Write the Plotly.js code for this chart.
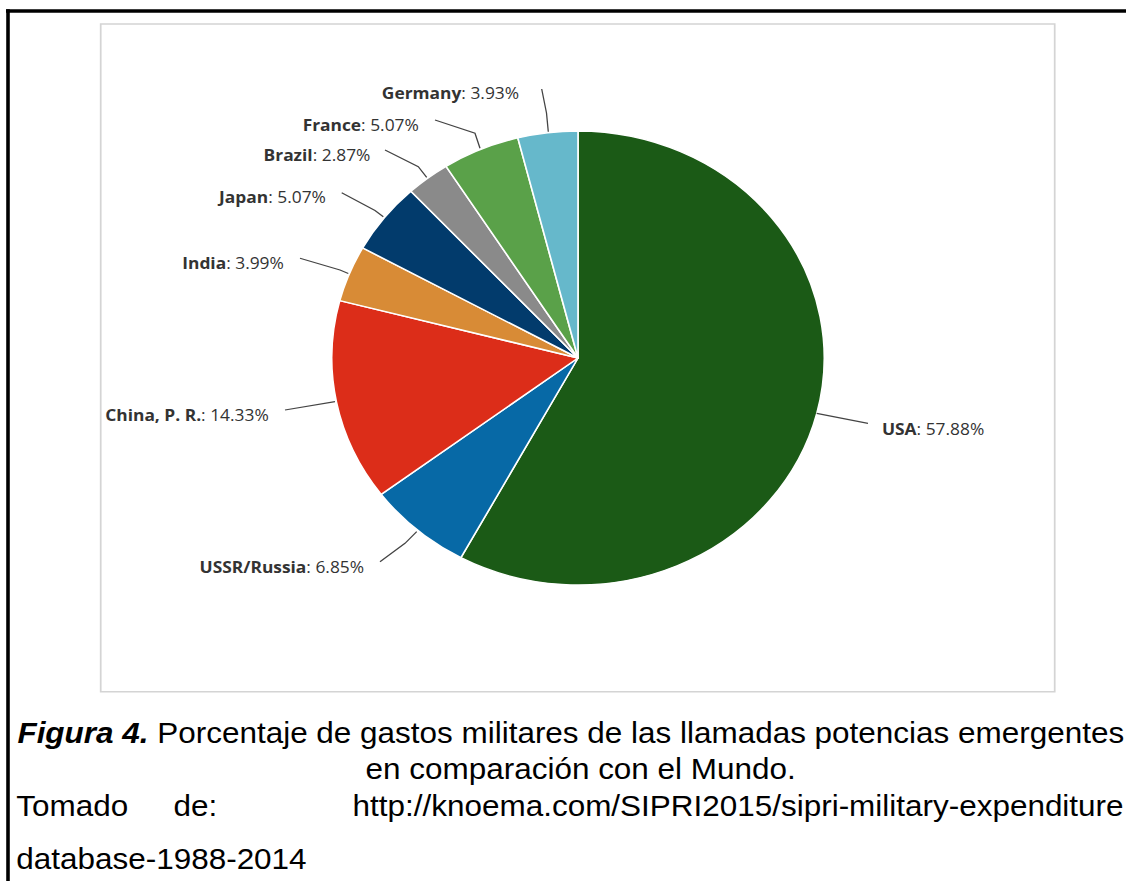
<!DOCTYPE html>
<html>
<head>
<meta charset="utf-8">
<script src="https://cdn.plot.ly/plotly-3.0.1.min.js"></script>
<style>
  html, body { margin:0; padding:0; background:#fff; overflow:hidden; }
  #wrap { width:1126px; height:881px; overflow:hidden; }
  #chart { width:1038px; height:881px; transform:scaleX(1.08478); transform-origin:0 0; }
</style>
</head>
<body>
<div id="wrap"><div id="chart"></div></div>
<script>
// ---- data ----
const countries = ['USA', 'USSR/Russia', 'China, P. R.', 'India', 'Japan', 'Brazil', 'France', 'Germany'];
const shares    = [57.88, 6.85, 14.33, 3.99, 5.07, 2.87, 5.07, 3.93];
const captionLine1Bold = 'Figura 4.';
const captionLine1 = 'Porcentaje de gastos militares de las llamadas potencias emergentes';
const captionLine2 = 'en comparación con el Mundo.';
const sourceLabel = 'Tomado';
const sourceDe = 'de:';
const sourceUrl1 = 'http://knoema.com/SIPRI2015/sipri-military-expenditure';
const sourceUrl2 = 'database-1988-2014';

// ---- styles ----
const sliceColors = ['#1b5a16', '#0769a6', '#dc2d19', '#d88b36', '#023b6c', '#8a8a8a', '#5aa149', '#66b8cb'];

// geometry helpers (reference pixel -> paper)
const W = 1038, H = 881, S = 1126 / 1038;
const px = x => x / S / W;
const py = y => 1 - y / H;

// label placement (reference pixels): anchor x, y, anchor side, leader path
const labelPos = [
  {x: 880,   y: 429.5, a: 'left',  path: [[816.7, 413.3], [868, 423.3]]},
  {x: 366.7, y: 566.5, a: 'right', path: [[380, 561.7], [405, 543.3], [416.7, 531.7]]},
  {x: 271.7, y: 415,   a: 'right', path: [[285, 410], [335, 401.7]]},
  {x: 286.7, y: 262.7, a: 'right', path: [[300, 258.3], [340, 270], [348.3, 273.5]]},
  {x: 328.3, y: 196.7, a: 'right', path: [[341.7, 192.7], [375, 210.5], [383.3, 216.7]]},
  {x: 371.7, y: 155,   a: 'right', path: [[385, 150], [418.3, 166.7], [426.7, 177.3]]},
  {x: 420.7, y: 125,   a: 'right', path: [[435, 120], [475, 133.3], [480, 148.3]]},
  {x: 521.7, y: 93.3,  a: 'right', path: [[541.7, 89], [546.5, 113], [548.3, 131.7]]}
];

const annotations = [];
const shapes = [];

countries.forEach((c, i) => {
  const p = labelPos[i];
  annotations.push({
    xref: 'paper', yref: 'paper', x: px(p.x), y: py(p.y),
    xanchor: p.a, yanchor: 'middle', showarrow: false,
    text: '<b>' + c + '</b>: ' + shares[i].toFixed(2) + '%',
    font: {family: 'Open Sans, sans-serif', size: 16, color: '#333333'}
  });
  const d = p.path.map((pt, k) => (k ? 'L' : 'M') + px(pt[0]) + ',' + py(pt[1])).join(' ');
  shapes.push({type: 'path', xref: 'paper', yref: 'paper', path: d,
    line: {color: '#444444', width: 1.2}, layer: 'above'});
});

// inner chart box
shapes.push({type: 'rect', xref: 'paper', yref: 'paper',
  x0: px(100.7), x1: px(1054.7), y0: py(691.7), y1: py(24),
  line: {color: '#d4d4d4', width: 1.6}, layer: 'below'});
// outer black frame (top & left)
shapes.push({type: 'line', xref: 'paper', yref: 'paper',
  x0: px(6), x1: 1.01, y0: py(11), y1: py(11), line: {color: '#000', width: 3.6}});
shapes.push({type: 'line', xref: 'paper', yref: 'paper',
  x0: px(8), x1: px(8), y0: py(9.3), y1: -0.01, line: {color: '#000', width: 3.3}});

// caption
const capFont = {family: 'Liberation Sans, Arial, sans-serif', size: 29, color: '#000'};
const capY = [733, 768.5, 805.5, 859];
annotations.push({xref: 'paper', yref: 'paper', x: px(15), y: py(capY[0]), xanchor: 'left', yanchor: 'middle',
  showarrow: false, font: capFont, text: '<b><i>' + captionLine1Bold + '</i></b> ' + captionLine1});
annotations.push({xref: 'paper', yref: 'paper', x: px(580.5), y: py(capY[1]), xanchor: 'center', yanchor: 'middle',
  showarrow: false, font: capFont, text: captionLine2});
annotations.push({xref: 'paper', yref: 'paper', x: px(14), y: py(capY[2]), xanchor: 'left', yanchor: 'middle',
  showarrow: false, font: capFont, text: sourceLabel});
annotations.push({xref: 'paper', yref: 'paper', x: px(171), y: py(capY[2]), xanchor: 'left', yanchor: 'middle',
  showarrow: false, font: capFont, text: sourceDe});
annotations.push({xref: 'paper', yref: 'paper', x: px(350), y: py(capY[2]), xanchor: 'left', yanchor: 'middle',
  showarrow: false, font: capFont, text: sourceUrl1});
annotations.push({xref: 'paper', yref: 'paper', x: px(14), y: py(capY[3]), xanchor: 'left', yanchor: 'middle',
  showarrow: false, font: capFont, text: sourceUrl2});

// pie domain: centre (578,358) ref px, vertical radius 227
const cx = 578 / S, cy = 358, r = 227;
const trace = {
  type: 'pie',
  labels: countries,
  values: shares,
  sort: false,
  direction: 'clockwise',
  rotation: 0,
  textinfo: 'none',
  hoverinfo: 'label+percent',
  marker: {colors: sliceColors, line: {color: '#ffffff', width: 1.5}},
  domain: {x: [(cx - r) / W, (cx + r) / W], y: [(H - cy - r) / H, (H - cy + r) / H]},
  showlegend: false
};

const layout = {
  width: W, height: H,
  margin: {l: 0, r: 0, t: 0, b: 0},
  paper_bgcolor: '#ffffff',
  showlegend: false,
  annotations: annotations,
  shapes: shapes
};

Plotly.newPlot('chart', [trace], layout, {displayModeBar: false, staticPlot: true});
</script>
</body>
</html>
